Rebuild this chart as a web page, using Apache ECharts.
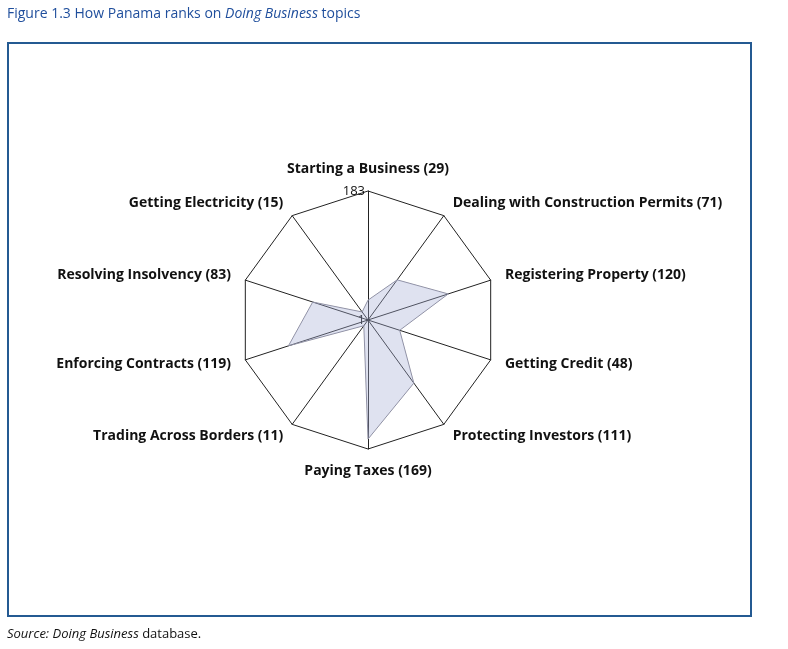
<!DOCTYPE html>
<html>
<head>
<meta charset="utf-8">
<script src="https://cdn.jsdelivr.net/npm/echarts@6/dist/echarts.min.js"></script>
<style>
  html, body { margin: 0; padding: 0; background: #fff; }
  #main { width: 788px; height: 649px; }
</style>
</head>
<body>
<div id="main"></div>
<script>
// topics in clockwise order starting at the top
var topics = ["Starting a Business", "Dealing with Construction Permits", "Registering Property",
  "Getting Credit", "Protecting Investors", "Paying Taxes", "Trading Across Borders",
  "Enforcing Contracts", "Resolving Insolvency", "Getting Electricity"];
var ranks = [29, 71, 120, 48, 111, 169, 11, 119, 83, 15];
var rankMin = 1, rankMax = 183;

// echarts lays indicators out counter-clockwise, so walk the list backwards after the first
var order = [0];
for (var i = topics.length - 1; i > 0; i--) order.push(i);

var indicators = order.map(function (k, n) {
  var ind = { name: topics[k] + " (" + ranks[k] + ")", min: rankMin, max: rankMax };
  if (n === 0) ind.axisLabel = { show: true };
  return ind;
});
var values = order.map(function (k) { return ranks[k]; });

var chart = echarts.init(document.getElementById("main"));
chart.setOption({
  animation: false,
  title: [{
    left: 7, top: 7, padding: 0,
    text: "Figure 1.3 How Panama ranks on {i|Doing Business} topics",
    textStyle: {
      fontFamily: "Open Sans", fontSize: 14, fontWeight: "normal", color: "#1f4e9c",
      rich: { i: { fontFamily: "Open Sans", fontSize: 14, fontStyle: "italic", color: "#1f4e9c" } }
    }
  }, {
    left: 7, top: 628, padding: 0,
    text: "{i|Source: Doing Business} database.",
    textStyle: {
      fontFamily: "Open Sans", fontSize: 13, fontWeight: "normal", color: "#111",
      rich: { i: { fontFamily: "Open Sans", fontSize: 13, fontStyle: "italic", color: "#111" } }
    }
  }],
  graphic: [{
    type: "rect", z: -1,
    shape: { x: 8, y: 43, width: 743, height: 573 },
    style: { fill: "none", stroke: "#245a92", lineWidth: 2 }
  }],
  radar: {
    center: [368, 320],
    radius: 129,
    startAngle: 90,
    shape: "polygon",
    splitNumber: 1,
    nameGap: 15,
    axisName: { color: "#111", fontFamily: "Open Sans", fontSize: 14, fontWeight: "bold" },
    axisLine: { lineStyle: { color: "#222", width: 1 } },
    splitLine: { lineStyle: { color: "#222", width: 1 } },
    splitArea: { show: false },
    axisTick: { show: false },
    axisLabel: { show: false, color: "#111", fontFamily: "Open Sans", fontSize: 13, margin: 3 },
    indicator: indicators
  },
  series: [{
    type: "radar",
    symbol: "none",
    lineStyle: { color: "#8c8c9c", width: 1 },
    areaStyle: { color: "rgba(165,173,212,0.5)" },
    data: [{ value: values, name: "Panama" }]
  }]
});
</script>
</body>
</html>
